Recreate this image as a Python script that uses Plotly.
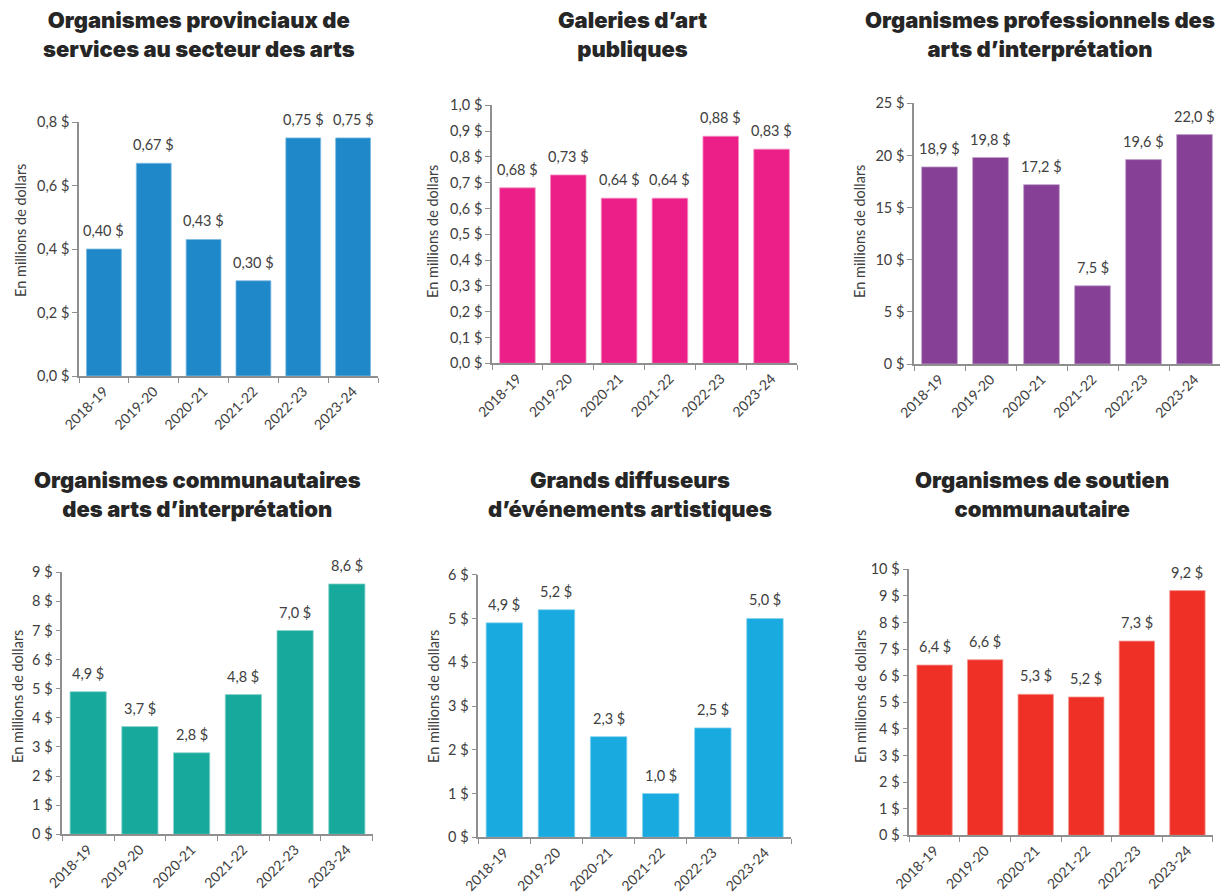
import plotly.graph_objects as go

years = ["2018-19", "2019-20", "2020-21", "2021-22", "2022-23", "2023-24"]

titles = [
    "Organismes provinciaux de<br>services au secteur des arts",
    "Galeries d’art<br>publiques",
    "Organismes professionnels des<br>arts d’interprétation",
    "Organismes communautaires<br>des arts d’interprétation",
    "Grands diffuseurs<br>d’événements artistiques",
    "Organismes de soutien<br>communautaire",
]

provinciaux = [0.40, 0.67, 0.43, 0.30, 0.75, 0.75]
galeries = [0.68, 0.73, 0.64, 0.64, 0.88, 0.83]
professionnels = [18.9, 19.8, 17.2, 7.5, 19.6, 22.0]
communautaires = [4.9, 3.7, 2.8, 4.8, 7.0, 8.6]
diffuseurs = [4.9, 5.2, 2.3, 1.0, 2.5, 5.0]
soutien = [6.4, 6.6, 5.3, 5.2, 7.3, 9.2]

series = [provinciaux, galeries, professionnels, communautaires, diffuseurs, soutien]
label_decimals = [2, 2, 1, 1, 1, 1]
y_max = [0.8, 1.0, 25, 9, 6, 10]
y_dtick = [0.2, 0.1, 5, 1, 1, 1]
y_fmt = [".1f", ".1f", "d", "d", "d", "d"]

colors = ["#1e88c8", "#ec1e87", "#864096", "#17aa9c", "#19aae0", "#ee3027"]
edge_colors = ["#7fbde3", "#f58fc2", "#c09fcb", "#8bd4cd", "#8cd4ef", "#f69893"]

W, H = 1220, 896
# plot area pixel boxes: (x0, x1, ytop, ybottom)
boxes = [
    (79, 378, 122, 376),
    (492, 797, 105.3, 363.3),
    (914, 1220, 103.3, 364),
    (62.3, 372.7, 572.3, 834.3),
    (478.3, 791, 574.7, 837.3),
    (909.3, 1212.7, 569.3, 835.3),
]
title_pos = [(199, 34), (632, 34), (1040, 34), (197, 495), (630, 495), (1042, 495)]
ytitle_pos = [(20, 231), (433, 232), (860, 232), (17, 697), (433, 697), (860, 697)]

TXT = "#404040"
AX = "#8f8f8f"
FONT = "Lato"

fig = go.Figure()
annotations = []
for i in range(6):
    n = "" if i == 0 else str(i + 1)
    vals = series[i]
    d = label_decimals[i]
    labels = [f"{v:.{d}f}".replace(".", ",") + " $" for v in vals]
    fig.add_trace(go.Bar(
        x=years, y=vals, xaxis="x" + n, yaxis="y" + n,
        marker=dict(color=colors[i], line=dict(color=edge_colors[i], width=0.8)),
        hoverinfo="x+y",
    ))
    x0, x1, yt, yb = boxes[i]
    fig.layout["xaxis" + n] = dict(
        domain=[x0 / W, x1 / W], anchor="y" + n, automargin=False,
        type="category", tickangle=-45, tickson="boundaries",
        ticks="outside", ticklen=5, tickcolor=AX, tickwidth=1.2,
        showline=True, linecolor=AX, linewidth=1.5,
        tickfont=dict(family=FONT, size=14, color=TXT),
        showgrid=False, zeroline=False, fixedrange=True,
    )
    fig.layout["yaxis" + n] = dict(
        domain=[1 - yb / H, 1 - yt / H], anchor="x" + n, automargin=False,
        range=[0, y_max[i]], dtick=y_dtick[i], tick0=0,
        tickformat=y_fmt[i], ticksuffix=" $",
        ticks="outside", ticklen=5, tickcolor=AX, tickwidth=1.2,
        showline=True, linecolor=AX, linewidth=1.5,
        tickfont=dict(family=FONT, size=14.5, color=TXT),
        showgrid=False, zeroline=False, fixedrange=True,
    )
    for yr, v, lab in zip(years, vals, labels):
        annotations.append(dict(
            x=yr, y=v, xref="x" + n, yref="y" + n, text=lab,
            showarrow=False, yanchor="bottom", yshift=8,
            font=dict(family=FONT, size=14.5, color=TXT),
        ))
    tx, ty = title_pos[i]
    annotations.append(dict(
        x=tx / W, y=1 - ty / H, xref="paper", yref="paper",
        text=titles[i], showarrow=False, xanchor="center", yanchor="middle",
        align="center",
        font=dict(family="Inter", size=22, color="#262626", weight=900),
    ))
    ax_, ay_ = ytitle_pos[i]
    annotations.append(dict(
        x=ax_ / W, y=1 - ay_ / H, xref="paper", yref="paper",
        text="En millions de dollars", showarrow=False, textangle=-90,
        xanchor="center", yanchor="middle",
        font=dict(family=FONT, size=14.5, color=TXT),
    ))

fig.update_layout(
    width=W, height=H, margin=dict(l=0, r=0, t=0, b=0, autoexpand=False),
    paper_bgcolor="white", plot_bgcolor="white",
    showlegend=False, bargap=0.3, separators=", ",
    annotations=annotations,
)

fig.write_html("out.html")
